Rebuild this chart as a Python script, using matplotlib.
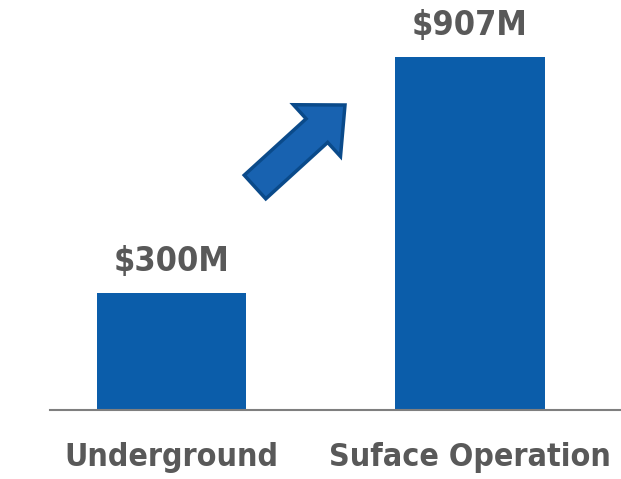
import matplotlib
matplotlib.use("Agg")
import matplotlib.pyplot as plt
import matplotlib.patches as mpatches

categories = ["Underground", "Suface Operation"]
values = [300, 907]
value_labels = ["$300M", "$907M"]

bar_color = "#0B5DAA"
text_color = "#595959"
font = ["DejaVu Sans"]

fig = plt.figure(figsize=(6.21, 4.79), dpi=100)
ax = fig.add_axes([50 / 621, 69 / 479, 571 / 621, 410 / 479])

x = list(range(len(categories)))
ax.bar(x, values, width=0.5, color=bar_color, zorder=2)

ax.set_xlim(-0.407, 1.506)
ax.set_ylim(0, 1053.5)

for xi, v, lab in zip(x, values, value_labels):
    ax.text(xi, v + 38, lab, ha="center", va="bottom", fontsize=24.5,
            fontweight="bold", fontstretch="condensed", color=text_color,
            family=font)

ax.set_xticks(x)
ax.set_xticklabels(categories, fontsize=23, fontweight="bold",
                   fontstretch="condensed", color=text_color, family=font)
ax.tick_params(axis="x", length=0, pad=23)
ax.set_yticks([])

for side in ["top", "right", "left"]:
    ax.spines[side].set_visible(False)
ax.spines["bottom"].set_color("#7F7F7F")
ax.spines["bottom"].set_linewidth(1.5)

# growth arrow between the bars
arrow = mpatches.FancyArrow(2.55, 2.92, 0.90, 0.82, width=0.32,
                            head_width=0.70, head_length=0.38,
                            length_includes_head=True,
                            transform=fig.dpi_scale_trans,
                            facecolor="#1862B0", edgecolor="#0A4A8A",
                            linewidth=2.5, zorder=5)
fig.patches.append(arrow)

fig.savefig("out.png", dpi=100)
